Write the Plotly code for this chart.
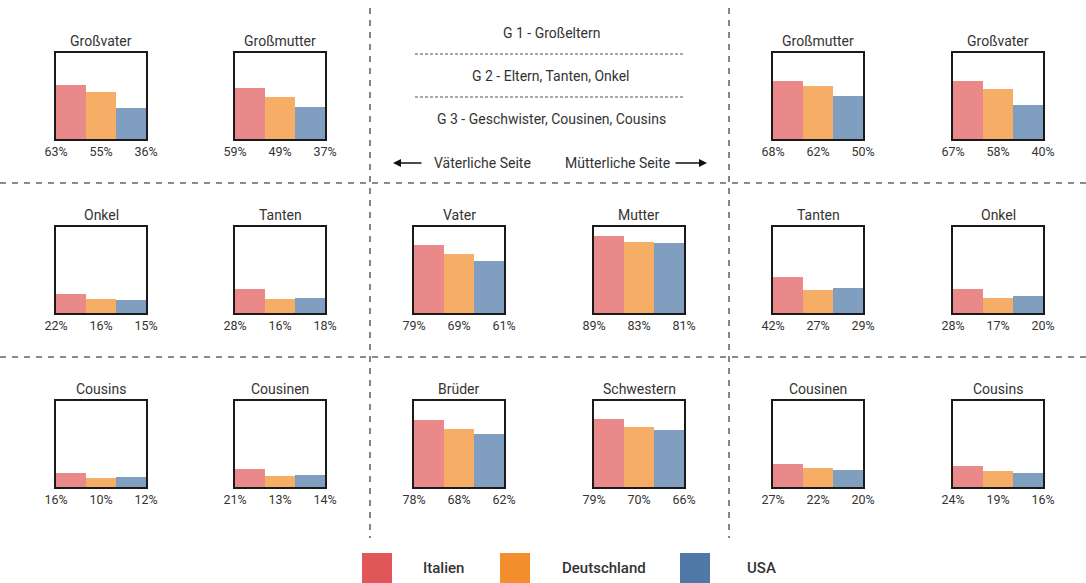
import plotly.graph_objects as go

# Panel titles in reading order (left block = paternal side, right block = maternal side)
titles = [
    "Großvater", "Großmutter", "Großmutter", "Großvater",
    "Onkel", "Tanten", "Vater", "Mutter", "Tanten", "Onkel",
    "Cousins", "Cousinen", "Brüder", "Schwestern", "Cousinen", "Cousins",
]
countries = ["Italien", "Deutschland", "USA"]
italien = [63, 59, 68, 67, 22, 28, 79, 89, 42, 28, 16, 21, 78, 79, 27, 24]
deutschland = [55, 49, 62, 58, 16, 16, 69, 83, 27, 17, 10, 13, 68, 70, 22, 19]
usa = [36, 37, 50, 40, 15, 18, 61, 81, 29, 20, 12, 14, 62, 66, 20, 16]

generation_labels = [
    "G 1 - Großeltern",
    "G 2 - Eltern, Tanten, Onkel",
    "G 3 - Geschwister, Cousinen, Cousins",
]
side_labels = ["Väterliche Seite", "Mütterliche Seite"]

W, H = 1086, 583
solid = ["#E15759", "#F28E2B", "#4E79A7"]
bar_fill = ["rgba(225,87,89,0.70)", "rgba(242,142,43,0.72)", "rgba(78,121,167,0.72)"]
ink = "#333333"


def px(x):
    return x / W


def py(y):
    return 1 - y / H


def label(x, y, text, size=14, **font_extra):
    return dict(x=px(x), y=py(y), xref="paper", yref="paper", text=text,
                showarrow=False, xanchor="center", yanchor="middle",
                font=dict(size=size, color=ink, **font_extra))


col_left = [56, 235, 414, 594, 773, 953]
row_top = [53, 227, 401]
box_w, box_h = 90, 86
slots = [(0, 0), (0, 1), (0, 4), (0, 5)] + [(1, c) for c in range(6)] + [(2, c) for c in range(6)]

fig = go.Figure()
layout = {}
annotations = []

for i, title in enumerate(titles):
    n = i + 1
    r, c = slots[i]
    left, top = col_left[c], row_top[r]
    vals = [italien[i], deutschland[i], usa[i]]
    xref = "x" if n == 1 else f"x{n}"
    yref = "y" if n == 1 else f"y{n}"
    fig.add_trace(go.Bar(
        x=[0, 1, 2], y=vals, width=1,
        marker=dict(color=bar_fill, line=dict(width=0)),
        xaxis=xref, yaxis=yref, showlegend=False,
        customdata=countries, hovertemplate="%{customdata}: %{y}%<extra></extra>",
    ))
    frame = dict(showline=True, mirror=True, linecolor="#1a1a1a", linewidth=2,
                 showgrid=False, zeroline=False, fixedrange=True, automargin=False)
    layout["xaxis" if n == 1 else f"xaxis{n}"] = dict(
        domain=[px(left), px(left + box_w)], range=[-0.5, 2.5],
        tickvals=[-0.5, 1, 2.5], ticktext=[f"{v}%" for v in vals],
        tickfont=dict(size=12.5, color=ink), ticks="", anchor=yref, **frame,
    )
    layout["yaxis" if n == 1 else f"yaxis{n}"] = dict(
        domain=[py(top + box_h), py(top)], range=[0, 100],
        showticklabels=False, ticks="", anchor=xref, **frame,
    )
    annotations.append(label(left + box_w / 2, top - 12, title))

# Generation headings in the centre block
for text, yc in zip(generation_labels, [33, 76, 119]):
    annotations.append(label(551, yc, text))

# Side labels with arrows
annotations.append(label(482, 163, side_labels[0]))
annotations.append(label(617, 163, side_labels[1]))
annotations.append(dict(x=px(393), y=py(163), xref="paper", yref="paper", text="",
                        showarrow=True, ax=30, ay=0, arrowhead=2, arrowsize=1,
                        arrowwidth=1.6, arrowcolor="#111"))
annotations.append(dict(x=px(707), y=py(163), xref="paper", yref="paper", text="",
                        showarrow=True, ax=-33, ay=0, arrowhead=2, arrowsize=1,
                        arrowwidth=1.6, arrowcolor="#111"))

shapes = []
grid_line = dict(color="#666666", width=1.6, dash="6px,6px")
for yy in [183, 357]:
    shapes.append(dict(type="line", xref="paper", yref="paper",
                       x0=0, x1=1, y0=py(yy), y1=py(yy), line=grid_line))
for xx in [370, 729]:
    shapes.append(dict(type="line", xref="paper", yref="paper",
                       x0=px(xx), x1=px(xx), y0=py(8), y1=py(538), line=grid_line))
for yy in [54, 97]:
    shapes.append(dict(type="line", xref="paper", yref="paper",
                       x0=px(415), x1=px(685), y0=py(yy), y1=py(yy),
                       line=dict(color="#555555", width=1.2, dash="3px,2px")))

# Legend swatches and labels
for color, name, sx, tx in zip(solid, countries, [362, 500, 680], [443, 604, 761]):
    shapes.append(dict(type="rect", xref="paper", yref="paper",
                       x0=px(sx), x1=px(sx + 30), y0=py(590), y1=py(553),
                       fillcolor=color, line=dict(width=0)))
    annotations.append(label(tx, 568, name, size=15, weight=500))

fig.update_layout(
    width=W, height=H, margin=dict(l=0, r=0, t=0, b=0, autoexpand=False),
    paper_bgcolor="white", plot_bgcolor="white",
    font=dict(family="Roboto", color=ink),
    annotations=annotations, shapes=shapes, bargap=0, **layout,
)

fig.write_html("out.html")
